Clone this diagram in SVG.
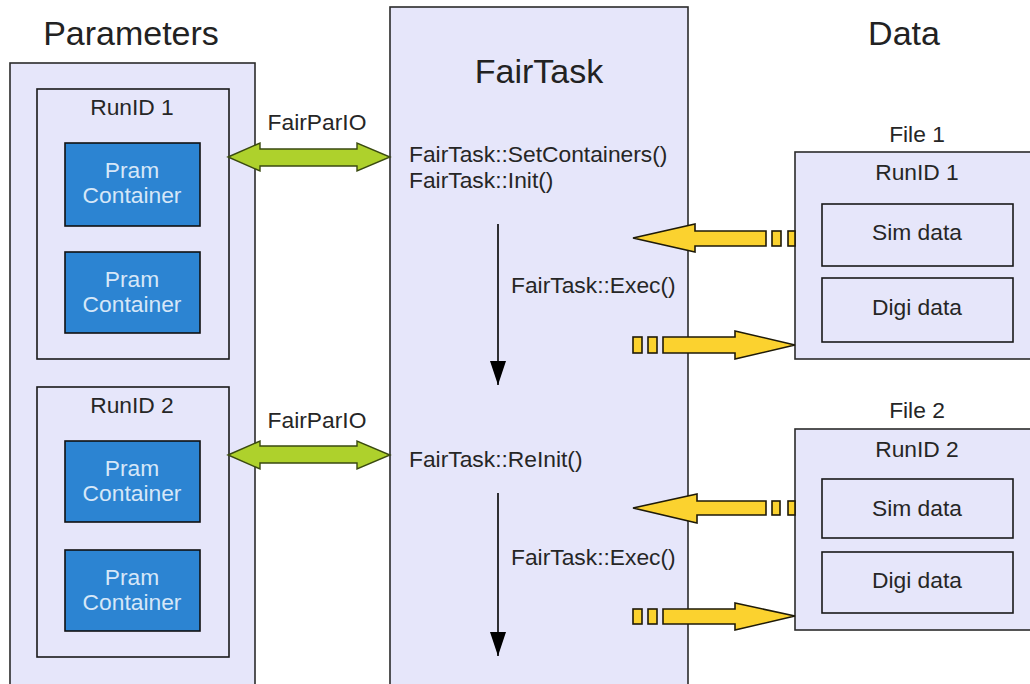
<svg xmlns="http://www.w3.org/2000/svg" width="1030" height="684" viewBox="0 0 1030 684">
  <defs>
    <style>
      .panel { fill: #e6e6fa; stroke: #2b2b2b; stroke-width: 1.6; }
      .box { fill: none; stroke: #1a1a1a; stroke-width: 1.6; }
      .pram { fill: #2c84d2; stroke: #111; stroke-width: 1.6; }
      .txt { font-family: "Liberation Sans", Arial, sans-serif; font-size: 22.8px; fill: #262626; }
      .mid { text-anchor: middle; }
      .title { font-family: "Liberation Sans", Arial, sans-serif; font-size: 34px; fill: #222; text-anchor: middle; }
      .ptxt { font-family: "Liberation Sans", Arial, sans-serif; font-size: 22.8px; fill: #d6e7f8; text-anchor: middle; }
      .green { fill: #aed12c; stroke: #3a4a10; stroke-width: 1.4; stroke-linejoin: miter; }
      .yellow { fill: #fbd22f; stroke: #1e1a08; stroke-width: 1.6; stroke-linejoin: miter; }
      .flow { stroke: #000; stroke-width: 1.6; fill: none; }
    </style>
    <marker id="down" viewBox="0 0 24 16" refX="24" refY="8" markerWidth="24" markerHeight="16" markerUnits="userSpaceOnUse" orient="auto">
      <path d="M0,0 L24,8 L0,16 Z" fill="#000"/>
    </marker>
  </defs>

  <rect width="1030" height="684" fill="#fff"/>

  <!-- column titles -->
  <text class="title" x="131" y="45">Parameters</text>
  <text class="title" x="904" y="45">Data</text>

  <!-- parameter side -->
  <g id="parameters">
    <rect class="panel" x="10" y="63" width="245" height="640"/>
  </g>
  <g id="param-run1">
    <rect class="box" x="37" y="89" width="192" height="270"/>
    <text class="txt mid" x="132" y="115">RunID 1</text>
  </g>
  <g id="pram1">
    <rect class="pram" x="65" y="143" width="135" height="83"/>
    <text class="ptxt" x="132" y="178">Pram</text>
    <text class="ptxt" x="132" y="203">Container</text>
  </g>
  <g id="pram2">
    <rect class="pram" x="65" y="252" width="135" height="81"/>
    <text class="ptxt" x="132" y="287">Pram</text>
    <text class="ptxt" x="132" y="312">Container</text>
  </g>
  <g id="param-run2">
    <rect class="box" x="37" y="387" width="192" height="270"/>
    <text class="txt mid" x="132" y="413">RunID 2</text>
  </g>
  <g id="pram3">
    <rect class="pram" x="65" y="441" width="135" height="81"/>
    <text class="ptxt" x="132" y="476">Pram</text>
    <text class="ptxt" x="132" y="501">Container</text>
  </g>
  <g id="pram4">
    <rect class="pram" x="65" y="550" width="135" height="81"/>
    <text class="ptxt" x="132" y="585">Pram</text>
    <text class="ptxt" x="132" y="610">Container</text>
  </g>

  <!-- task in the middle -->
  <g id="fairtask">
    <rect class="panel" x="390" y="7" width="298" height="700"/>
    <text class="title" x="539" y="83">FairTask</text>
    <text class="txt" x="409" y="162">FairTask::SetContainers()</text>
    <text class="txt" x="409" y="188">FairTask::Init()</text>
    <text class="txt" x="511" y="293">FairTask::Exec()</text>
    <text class="txt" x="409" y="467">FairTask::ReInit()</text>
    <text class="txt" x="511" y="565">FairTask::Exec()</text>
  </g>

  <!-- data side -->
  <g id="file1">
    <text class="txt mid" x="917" y="142">File 1</text>
    <rect class="panel" x="795" y="152" width="250" height="207"/>
    <text class="txt mid" x="917" y="180">RunID 1</text>
  </g>
  <g id="sim1">
    <rect class="box" x="822" y="204" width="191" height="62"/>
    <text class="txt mid" x="917" y="240">Sim data</text>
  </g>
  <g id="digi1">
    <rect class="box" x="822" y="278" width="191" height="64"/>
    <text class="txt mid" x="917" y="315">Digi data</text>
  </g>
  <g id="file2">
    <text class="txt mid" x="917" y="418">File 2</text>
    <rect class="panel" x="795" y="429" width="250" height="201"/>
    <text class="txt mid" x="917" y="457">RunID 2</text>
  </g>
  <g id="sim2">
    <rect class="box" x="822" y="479" width="191" height="59"/>
    <text class="txt mid" x="917" y="516">Sim data</text>
  </g>
  <g id="digi2">
    <rect class="box" x="822" y="552" width="191" height="61"/>
    <text class="txt mid" x="917" y="588">Digi data</text>
  </g>

  <!-- connectors -->
  <g id="connectors">
    <!-- parameter I/O, double headed -->
    <text class="txt mid" x="317" y="130">FairParIO</text>
    <polygon class="green" points="228,157 260,143 260,149 357,149 357,143 390,157 357,171 357,166 260,166 260,171"/>
    <text class="txt mid" x="317" y="428">FairParIO</text>
    <polygon class="green" points="228,455 260,441 260,446 357,446 357,441 390,455 357,469 357,463 260,463 260,469"/>

    <!-- execution flow -->
    <line class="flow" x1="498" y1="224" x2="498" y2="385" marker-end="url(#down)"/>
    <line class="flow" x1="498" y1="493" x2="498" y2="656" marker-end="url(#down)"/>

    <!-- reading from file 1 -->
    <polygon class="yellow" points="633,238 695,224 695,231 766,231 766,246 695,246 695,252"/>
    <rect class="yellow" x="772" y="231" width="9" height="15"/>
    <rect class="yellow" x="788" y="231" width="7" height="15"/>
    <!-- writing to file 1 -->
    <rect class="yellow" x="633" y="337" width="9" height="16"/>
    <rect class="yellow" x="648" y="337" width="9" height="16"/>
    <polygon class="yellow" points="663,337 735,337 735,331 795,345 735,359 735,353 663,353"/>

    <!-- reading from file 2 -->
    <polygon class="yellow" points="633,508 697,494 697,501 766,501 766,515 697,515 697,523"/>
    <rect class="yellow" x="772" y="501" width="8" height="14"/>
    <rect class="yellow" x="788" y="501" width="7" height="14"/>
    <!-- writing to file 2 -->
    <rect class="yellow" x="633" y="609" width="9" height="15"/>
    <rect class="yellow" x="648" y="609" width="9" height="15"/>
    <polygon class="yellow" points="663,609 735,609 735,603 795,616 735,630 735,624 663,624"/>
  </g>
</svg>
